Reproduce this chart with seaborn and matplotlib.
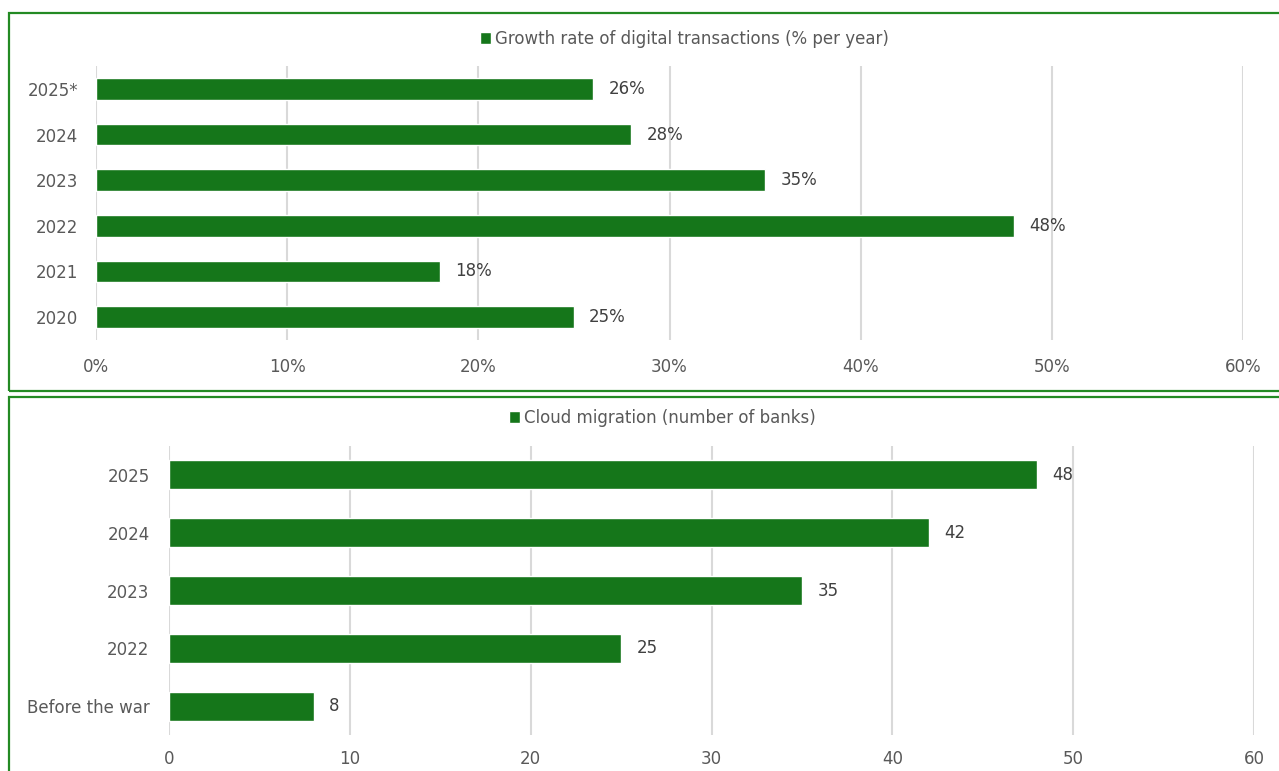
import matplotlib
matplotlib.use("Agg")
import matplotlib.pyplot as plt
import matplotlib.patches as mpatches
import seaborn as sns
import pandas as pd

# Data
years_top = ["2025*", "2024", "2023", "2022", "2021", "2020"]
growth_pct = [26, 28, 35, 48, 18, 25]
top_ticks = [0, 10, 20, 30, 40, 50, 60]

periods_bottom = ["2025", "2024", "2023", "2022", "Before the war"]
banks = [48, 42, 35, 25, 8]
bottom_ticks = [0, 10, 20, 30, 40, 50, 60]

top_legend = "Growth rate of digital transactions (% per year)"
bottom_legend = "Cloud migration (number of banks)"

BAR = "#15761a"
BORDER = "#238a23"
TEXT = "#595959"
LABEL = "#404040"
GRID = "#d9d9d9"

sns.set_theme(style="white")
plt.rcParams["font.family"] = ["DejaVu Sans"]
plt.rcParams["font.size"] = 12

fig = plt.figure(figsize=(12.79, 7.71), dpi=100)

# Panel borders
fig.patches.append(mpatches.Rectangle((9/1279, 1-391/771), 1.05, (391-13)/771,
                                      transform=fig.transFigure, fill=False,
                                      edgecolor=BORDER, lw=1.6, zorder=0))
fig.patches.append(mpatches.Rectangle((9/1279, -0.05), 1.05, 0.05 + (1-397/771),
                                      transform=fig.transFigure, fill=False,
                                      edgecolor=BORDER, lw=1.6, zorder=0))

ax1 = fig.add_axes([96/1279, 1-340/771, (1243-96)/1279, (340-66)/771])
ax2 = fig.add_axes([169/1279, 1-735/771, (1254-169)/1279, (735-446)/771])

df1 = pd.DataFrame({"cat": years_top, "val": growth_pct})
df2 = pd.DataFrame({"cat": periods_bottom, "val": banks})

sns.barplot(data=df1, y="cat", x="val", order=years_top, color=BAR, saturation=1,
            width=0.48, ax=ax1, label=top_legend)
sns.barplot(data=df2, y="cat", x="val", order=periods_bottom, color=BAR, saturation=1,
            width=0.5, ax=ax2, label=bottom_legend)

for ax, ticks, fmt, n in [(ax1, top_ticks, "{:.0f}%", len(years_top)),
                          (ax2, bottom_ticks, "{:.0f}", len(periods_bottom))]:
    ax.set_xlim(ticks[0], ticks[-1])
    ax.set_ylim(n - 0.5, -0.5)
    ax.set_xticks(ticks)
    ax.set_xticklabels([fmt.format(t) for t in ticks])
    ax.grid(axis="x", color=GRID, lw=1.5)
    ax.set_axisbelow(True)
    for s in ax.spines.values():
        s.set_visible(False)
    ax.tick_params(axis="both", length=0, colors=TEXT, labelsize=12)
    ax.set_xlabel("")
    ax.set_ylabel("")
    ax.patch.set_alpha(0)
    ax.bar_label(ax.containers[0], labels=[fmt.format(v) for v in ax.containers[0].datavalues],
                 padding=11, color=LABEL, fontsize=12)

ax1.tick_params(axis="x", pad=13)
ax1.tick_params(axis="y", pad=13)
ax2.tick_params(axis="x", pad=11)
ax2.tick_params(axis="y", pad=14)

for ax, cx, cy in [(ax1, 684/1279, 1-39/771), (ax2, 662/1279, 1-418/771)]:
    leg = ax.legend(loc="center", bbox_to_anchor=(cx, cy), bbox_transform=fig.transFigure,
                    frameon=False, fontsize=12, handlelength=0.7, handleheight=0.7,
                    handletextpad=0.2, labelcolor=TEXT)

fig.savefig("out.png", dpi=100)
